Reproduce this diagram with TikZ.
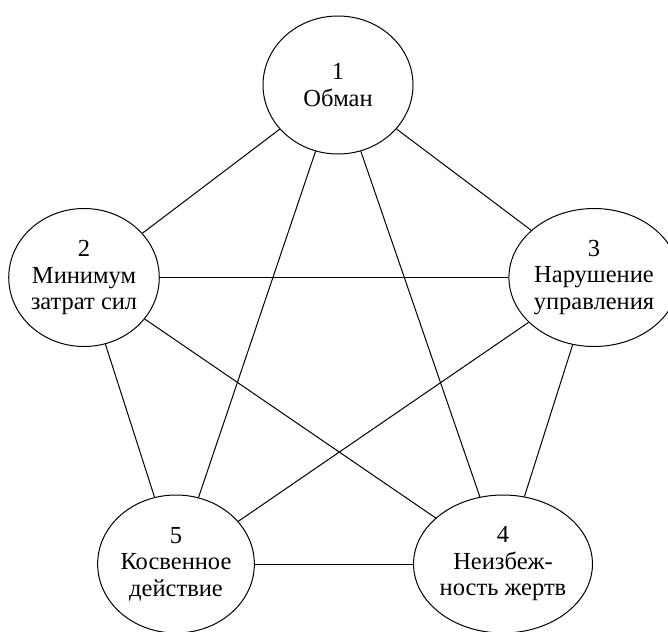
\documentclass[tikz,border=0pt]{standalone}
\usepackage{fontspec}
\setmainfont{Liberation Serif}
\usetikzlibrary{shapes.geometric}
\tikzset{
  bubble/.style={ellipse, draw, line width=1pt, minimum width=150pt, minimum height=138pt, inner sep=0pt, align=center, font=\fontsize{24.5pt}{26.5pt}\selectfont},
  link/.style={line width=1pt}
}
\begin{document}
\begin{tikzpicture}[x=1pt,y=-1pt]
\useasboundingbox (0,0) rectangle (668,631);
\node[bubble] (n1) at (338,85) {1\\Обман};
\node[bubble] (n2) at (84,277.5) {2\\Минимум\\затрат сил};
\node[bubble] (n3) at (594,277.5) {3\\Нарушение\\управления};
\node[bubble] (n4) at (503,564) {4\\Неизбеж-\\ность жертв};
\node[bubble] (n5) at (176,564) {5\\Косвенное\\действие};
\foreach \a/\b in {n1/n2,n1/n3,n1/n4,n1/n5,n2/n3,n2/n4,n2/n5,n3/n4,n3/n5,n4/n5}
  \draw[link] (\a) -- (\b);
\end{tikzpicture}
\end{document}
